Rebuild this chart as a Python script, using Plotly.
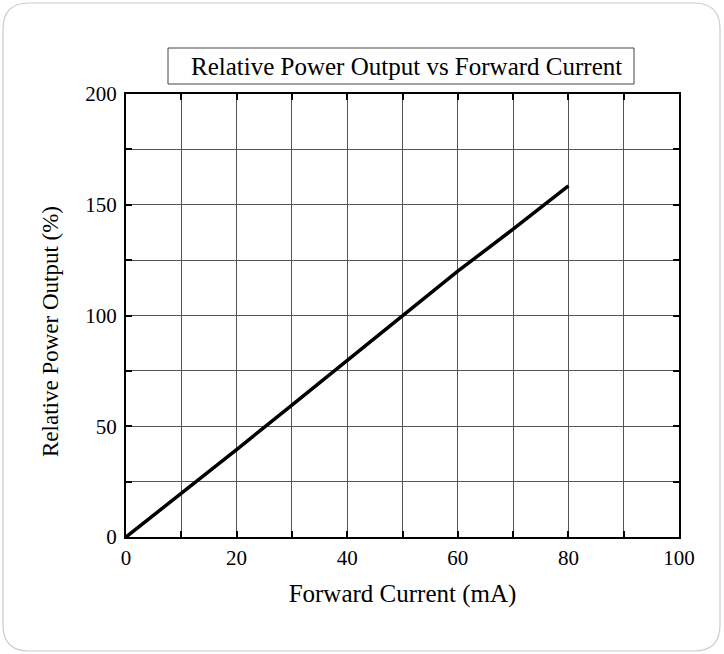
import plotly.graph_objects as go

current_ma = [0, 10, 20, 30, 40, 50, 60, 70, 80]
relative_power = [0, 19.5, 39.5, 59.5, 79.5, 100, 120, 139, 158.5]

x_ticks = [0, 10, 20, 30, 40, 50, 60, 70, 80, 90, 100]
x_labels = ["0", "", "20", "", "40", "", "60", "", "80", "", "100"]
y_ticks = [0, 25, 50, 75, 100, 125, 150, 175, 200]
y_labels = ["0", "", "50", "", "100", "", "150", "", "200"]

W, H = 724, 654
L, R, T, B = 126, 679, 94, 537

def px(x):
    return (x - L) / (R - L)

def py(y):
    return (B - y) / (B - T)

fig = go.Figure()
fig.add_trace(go.Scatter(x=current_ma, y=relative_power, mode="lines",
                         line=dict(color="black", width=3.5), showlegend=False,
                         hoverinfo="skip"))

font = "Liberation Serif, Times New Roman, serif"
axis_common = dict(showline=True, linecolor="black", linewidth=2, mirror="ticks",
                   ticks="inside", ticklen=6, tickwidth=2, tickcolor="black",
                   showgrid=True, gridcolor="#555555", gridwidth=1, zeroline=False,
                   tickfont=dict(family=font, size=21, color="black"))

fig.update_xaxes(range=[0, 100], tickmode="array", tickvals=x_ticks, ticktext=x_labels,
                 ticklabelstandoff=1,
                 title=dict(text="Forward Current (mA)", font=dict(family=font, size=25, color="black"), standoff=15),
                 **axis_common)
fig.update_yaxes(range=[0, 200], tickmode="array", tickvals=y_ticks, ticktext=y_labels,
                 ticklabelstandoff=3, **axis_common)

fig.add_annotation(text="Relative Power Output (%)", xref="paper", yref="paper",
                   x=px(50), y=py(332), textangle=-90, showarrow=False,
                   xanchor="center", yanchor="middle",
                   font=dict(family=font, size=23, color="black"))

# rounded outer border
x0, x1, y0, y1, r = 3, 720, 3, 651, 26
path = (f"M {px(x0+r)},{py(y0)} L {px(x1-r)},{py(y0)} Q {px(x1)},{py(y0)} {px(x1)},{py(y0+r)} "
        f"L {px(x1)},{py(y1-r)} Q {px(x1)},{py(y1)} {px(x1-r)},{py(y1)} "
        f"L {px(x0+r)},{py(y1)} Q {px(x0)},{py(y1)} {px(x0)},{py(y1-r)} "
        f"L {px(x0)},{py(y0+r)} Q {px(x0)},{py(y0)} {px(x0+r)},{py(y0)} Z")
fig.add_shape(type="path", path=path, xref="paper", yref="paper",
              line=dict(color="#cccccc", width=1.2), layer="below")

# title box
fig.add_shape(type="rect", xref="paper", yref="paper",
              x0=px(168), x1=px(634), y0=py(84), y1=py(48),
              line=dict(color="#444444", width=1), fillcolor="white")
fig.add_annotation(text="Relative Power Output vs Forward Current", xref="paper", yref="paper",
                   x=px(406), y=py(66), showarrow=False, xanchor="center", yanchor="middle",
                   font=dict(family=font, size=25, color="black"))

fig.update_layout(width=W, height=H, margin=dict(l=L, r=W - R, t=T, b=H - B),
                  paper_bgcolor="white", plot_bgcolor="white")

fig.write_html("out.html", config={"displayModeBar": False},
               post_script="document.body.style.margin='0';document.body.style.padding='0';document.body.style.overflow='hidden';")
